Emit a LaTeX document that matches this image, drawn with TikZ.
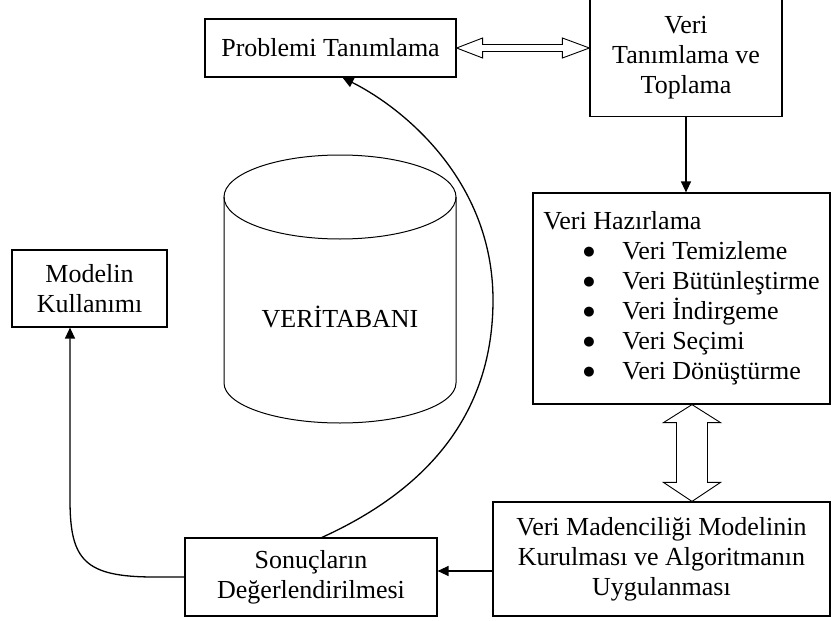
\documentclass[tikz,border=0pt]{standalone}
\usepackage{fontspec}
\setmainfont{Liberation Serif}
\newfontfamily\symfont{DejaVu Sans}
\usetikzlibrary{arrows.meta,calc}

\newcommand{\bigdot}{\makebox[39pt][l]{\raisebox{4pt}{\symfont\fontsize{13}{13}\selectfont ●}}}

\begin{document}
\begin{tikzpicture}[
  x=1pt, y=-1pt,
  every node/.style={font=\fontsize{26}{30}\selectfont, inner sep=0pt},
  box/.style={draw, line width=1.2pt, align=center},
  arr/.style={line width=1.3pt, -{Triangle[length=11pt,width=10pt]}},
  hollow/.style={draw, line width=0.9pt, line join=miter, fill=white},
  cyl/.style={line width=1pt}
]
\useasboundingbox (0,0) rectangle (831,621);

% process boxes
\node[box, minimum width=251pt, minimum height=58pt] (prob) at (330.5,48) {Problemi Tanımlama};
\node[box, minimum width=192pt, minimum height=117pt] (toplama) at (686,58) {Veri\\Tanımlama ve\\Toplama};
\node[box, align=left, minimum width=297pt, minimum height=211pt] (hazir) at (681.5,298.5)
  {\fontsize{26}{31}\selectfont Veri Hazırlama\\
   \hspace*{40pt}\bigdot Veri Temizleme\\
   \hspace*{40pt}\bigdot Veri Bütünleştirme\\
   \hspace*{40pt}\bigdot Veri İndirgeme\\
   \hspace*{40pt}\bigdot Veri Seçimi\\
   \hspace*{40pt}\bigdot Veri Dönüştürme};
\node[box, minimum width=337pt, minimum height=114pt] (madenci) at (661.5,559)
  {Veri Madenciliği Modelinin\\Kurulması ve Algoritmanın\\Uygulanması};
\node[box, minimum width=252pt, minimum height=78pt] (sonuc) at (311,577)
  {Sonuçların\\Değerlendirilmesi};
\node[box, minimum width=155pt, minimum height=77pt] (model) at (89.5,288.5)
  {Modelin\\Kullanımı};

% database cylinder
\draw[cyl] (224,197) -- (224,383) arc[start angle=180, end angle=360, x radius=116pt, y radius=40pt] -- (456,197);
\draw[cyl] (340,197) ellipse[x radius=116pt, y radius=42pt];
\node (db) at (340,317) {VERİTABANI};

% hollow two-headed arrow: problem <-> data collection
\coordinate (hl) at (prob.east);
\coordinate (hr) at (prob.east -| toplama.west);
\draw[hollow] (hl) -- ($(hl)+(26,-10)$) -- ($(hl)+(26,-3.5)$) -- ($(hr)+(-27,-3.5)$)
  -- ($(hr)+(-27,-10)$) -- (hr) -- ($(hr)+(-27,10)$) -- ($(hr)+(-27,3.5)$)
  -- ($(hl)+(26,3.5)$) -- ($(hl)+(26,10)$) -- cycle;

% hollow two-headed arrow: preparation <-> mining
\coordinate (vt) at ($(hazir.south)+(10.5,0)$);
\coordinate (vb) at (vt |- madenci.north);
\draw[hollow] (vt) -- ($(vt)+(-28.5,18)$) -- ($(vt)+(-15.5,18)$) -- ($(vb)+(-15.5,-19)$)
  -- ($(vb)+(-28.5,-19)$) -- (vb) -- ($(vb)+(28.5,-19)$) -- ($(vb)+(15.5,-19)$)
  -- ($(vt)+(15.5,18)$) -- ($(vt)+(28.5,18)$) -- cycle;

% flow arrows
\draw[arr] (toplama.south) -- (toplama.south |- hazir.north);
\coordinate (ms) at ($(madenci.west)+(0,12)$);
\draw[arr] (ms) -- (ms -| sonuc.east);

% evaluation back to problem definition
\coordinate (ps) at ($(sonuc.north)+(11,0)$);
\coordinate (pe) at ($(prob.south)+(12,0)$);
\draw[arr] (ps) .. controls +(110,-50) and +(0,110) .. (493,300)
  .. controls +(0,-120) and +(60,30) .. (pe);

% evaluation to model usage
\coordinate (mt) at ($(model.south)+(-19.5,0)$);
\draw[arr] (sonuc.west) -- ++(-30,0) .. controls +(-70,0) and +(0,60) .. (mt |- 0,500) -- (mt);
\end{tikzpicture}
\end{document}
